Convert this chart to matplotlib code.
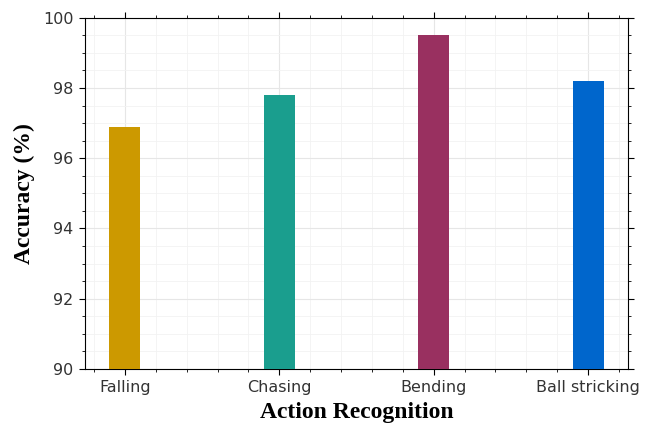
import matplotlib.pyplot as plt
from matplotlib.ticker import MultipleLocator

# Data
actions = ['Falling', 'Chasing', 'Bending', 'Ball stricking']
accuracy = [96.9, 97.8, 99.5, 98.2]
colors = ['#cc9900', '#1a9e8e', '#993060', '#0066cc']

fig = plt.figure(figsize=(6.47, 4.24), dpi=100)
ax = fig.add_axes([0.131, 0.13, 0.84, 0.828])

x = range(len(actions))
ax.bar(x, accuracy, width=0.2, color=colors, zorder=3)

ax.set_ylim(90, 100)
ax.set_xticks(list(x))
ax.set_xticklabels(actions)
ax.xaxis.set_minor_locator(MultipleLocator(0.2))
ax.yaxis.set_major_locator(MultipleLocator(2))
ax.yaxis.set_minor_locator(MultipleLocator(0.5))
ax.tick_params(axis='both', labelsize=11.5, labelcolor='#333333')
ax.tick_params(which='both', top=True, right=True, direction='out')
ax.tick_params(which='major', length=4.5)

# Grid
ax.grid(which='major', color='#e6e6e6', linewidth=0.8, zorder=0)
ax.grid(which='minor', color='#f2f2f2', linewidth=0.6, zorder=0)

ax.set_xlabel('Action Recognition', fontsize=17, fontweight='bold',
              family='Liberation Serif', labelpad=5)
ax.set_ylabel('Accuracy (%)', fontsize=17, fontweight='bold',
              family='Liberation Serif', labelpad=6)

plt.savefig('out.png', dpi=100)
